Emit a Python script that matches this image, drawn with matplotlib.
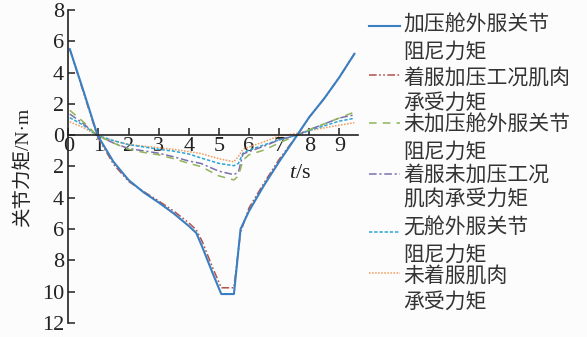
import matplotlib
matplotlib.use("Agg")
import matplotlib.pyplot as plt
from matplotlib.lines import Line2D
from matplotlib.ticker import FuncFormatter

plt.rcParams['font.family'] = ['Liberation Serif', 'Noto Sans CJK SC']
plt.rcParams['mathtext.fontset'] = 'custom'
plt.rcParams['mathtext.rm'] = 'Liberation Serif'
plt.rcParams['mathtext.it'] = 'Liberation Serif:italic'

# ---- data ----
t_main = [0.05, 0.5, 0.97, 1.5, 2.0, 2.5, 3.0, 3.5, 4.0, 4.25, 4.45, 4.8, 5.08, 5.5, 5.72,
          6.0, 6.5, 7.0, 7.6, 8.0, 8.5, 9.0, 9.5]
pressurized_suit = [5.5, 2.85, 0.0, -1.7, -2.86, -3.65, -4.3, -5.0, -5.8, -6.25, -7.15, -8.85,
                    -10.15, -10.15, -6.0, -4.85, -3.2, -1.7, 0.0, 1.15, 2.35, 3.7, 5.2]
pressurized_muscle = [5.5, 2.75, -0.1, -1.85, -2.95, -3.6, -4.2, -4.85, -5.6, -6.05, -6.8, -8.5,
                      -9.75, -9.75, -6.2, -4.65, -3.05, -1.55, 0.0, 1.15, 2.35, 3.7, 5.2]

t_small = [0.05, 0.5, 0.95, 1.5, 2.0, 2.5, 3.0, 3.5, 4.0, 4.4, 5.0, 5.5, 5.65, 5.8, 6.0, 6.5,
           7.0, 7.6, 8.0, 8.5, 9.0, 9.5]
unpressurized_suit = [1.59, 0.85, 0.0, -0.5, -0.9, -1.1, -1.25, -1.5, -1.8, -2.0, -2.6, -2.86,
                      -2.6, -1.6, -1.25, -0.95, -0.5, 0.0, 0.35, 0.72, 1.1, 1.48]
unpressurized_muscle = [1.35, 0.74, 0.0, -0.5, -0.85, -1.0, -1.15, -1.38, -1.65, -1.8, -2.3,
                        -2.52, -2.35, -1.2, -1.05, -0.7, -0.3, 0.0, 0.35, 0.72, 1.1, 1.3]
no_suit = [1.12, 0.64, 0.0, -0.35, -0.6, -0.75, -0.9, -1.02, -1.2, -1.45, -1.8, -1.95,
           -1.8, -1.15, -0.95, -0.62, -0.3, 0.0, 0.3, 0.6, 0.9, 1.08]
no_suit_muscle = [0.85, 0.49, 0.0, -0.35, -0.6, -0.7, -0.8, -0.9, -1.05, -1.17, -1.5, -1.7,
                  -1.35, -0.9, -0.75, -0.42, -0.05, 0.12, 0.3, 0.47, 0.64, 0.8]

labels = [("加压舱外服关节", "阻尼力矩"),
          ("着服加压工况肌肉", "承受力矩"),
          ("未加压舱外服关节", "阻尼力矩"),
          ("着服未加压工况", "肌肉承受力矩"),
          ("无舱外服关节", "阻尼力矩"),
          ("未着服肌肉", "承受力矩")]

x_ticks = [0, 1, 2, 3, 4, 5, 6, 7, 8, 9]
y_ticks = [8, 6, 4, 2, 0, -2, -4, -6, -8, -10, -12]

# ---- figure ----
W, H = 587, 337
fig = plt.figure(figsize=(W / 100, H / 100), dpi=100, facecolor='#fcfcfc')
ax = fig.add_axes([68.3 / W, 1 - 323 / H, 290 / W, 313 / H])
ax.set_facecolor('#fcfcfc')

styles = [
    dict(color='#3a7fc2', lw=1.5, ls='-'),
    dict(color='#b4514b', lw=1.1, dashes=[5, 1.6, 1.1, 1.6, 1.1, 1.6]),
    dict(color='#90b45a', lw=1.1, dashes=[5, 4]),
    dict(color='#7b70ae', lw=1.1, dashes=[5, 1.8, 1.4, 1.8]),
    dict(color='#2aa6d8', lw=1.1, dashes=[2.2, 1.2]),
    dict(color='#ef9a5a', lw=1.1, dashes=[1.0, 1.0]),
]
series = [(t_main, pressurized_suit), (t_main, pressurized_muscle),
          (t_small, unpressurized_suit), (t_small, unpressurized_muscle),
          (t_small, no_suit), (t_small, no_suit_muscle)]

for (tx, vals), st in list(zip(series, styles))[::-1]:
    ax.plot(tx, vals, **st)

ax.set_xlim(0, 9.63)
ax.set_ylim(-12, 8)
ax.spines['top'].set_visible(False)
ax.spines['right'].set_visible(False)
ax.spines['bottom'].set_position(('data', 0))
for sp in ('left', 'bottom'):
    ax.spines[sp].set_color('#222222')
    ax.spines[sp].set_linewidth(1.2)

ax.set_xticks(x_ticks)
ax.set_yticks(y_ticks)
ax.yaxis.set_major_formatter(FuncFormatter(lambda v, p: f"{abs(v):g}"))
ax.tick_params(axis='both', direction='in', length=5, width=1.1, color='#222222',
               labelsize=16, labelcolor='#222222')
ax.tick_params(axis='x', pad=1)
ax.tick_params(axis='y', pad=3)
for lab in ax.get_xticklabels() + ax.get_yticklabels():
    lab.set_fontfamily('Liberation Serif')

ax.text(300 / W, 1 - 173 / H, r'$t$/s', transform=fig.transFigure, fontsize=16,
        ha='center', va='center', color='#222222')
fig.text(23 / W, 1 - 167 / H, '关节力矩/N·m', rotation=90, fontsize=14,
         family=['Liberation Serif', 'Noto Sans CJK SC'],
         ha='center', va='center', color='#222222')

# ---- legend (manual, two-line labels) ----
handle_y = [25.7, 75, 123, 174, 232, 273]
row1_y = [25, 79, 125, 175, 228, 277]
row2_y = [52, 103, 152, 200, 255, 302]
for st, hy, r1, r2, (l1, l2) in zip(styles, handle_y, row1_y, row2_y, labels):
    fig.add_artist(Line2D([369 / W, 400 / W], [1 - hy / H, 1 - hy / H],
                          transform=fig.transFigure, **st))
    fig.text(403 / W, 1 - r1 / H, l1, fontsize=15, family=['Noto Sans CJK SC'],
             va='center', ha='left', color='#333333')
    fig.text(403 / W, 1 - r2 / H, l2, fontsize=15, family=['Noto Sans CJK SC'],
             va='center', ha='left', color='#333333')

fig.savefig('out.png', dpi=100, facecolor=fig.get_facecolor())
